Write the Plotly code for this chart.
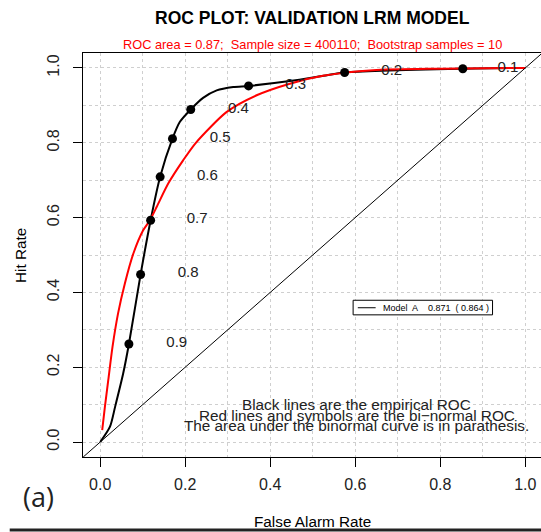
import plotly.graph_objects as go

# ---------------- data ----------------
# empirical ROC (black line)
emp_far = [0.0, 0.023, 0.035, 0.054, 0.0675, 0.095, 0.1186, 0.141, 0.170, 0.1875,
           0.213, 0.242, 0.274, 0.313, 0.349, 0.446, 0.525, 0.575, 0.853, 1.0]
emp_hit = [0.0, 0.041, 0.094, 0.183, 0.262, 0.448, 0.593, 0.709, 0.811, 0.856,
           0.889, 0.920, 0.940, 0.949, 0.952, 0.965, 0.979, 0.988, 0.998, 1.0]

# threshold points on the empirical curve
thr_far = [0.853, 0.575, 0.349, 0.213, 0.170, 0.141, 0.1186, 0.095, 0.0675]
thr_hit = [0.998, 0.988, 0.952, 0.889, 0.811, 0.709, 0.593, 0.448, 0.262]
thr_labels = ["0.1", "0.2", "0.3", "0.4", "0.5", "0.6", "0.7", "0.8", "0.9"]
thr_label_far = [0.959, 0.686, 0.460, 0.325, 0.282, 0.252, 0.228, 0.207, 0.180]
thr_label_hit = [1.000, 0.992, 0.954, 0.890, 0.813, 0.711, 0.595, 0.451, 0.264]

# bi-normal ROC (red line)
bin_far = [0.0047, 0.011, 0.019, 0.029, 0.042, 0.058, 0.078, 0.101, 0.117, 0.133,
           0.160, 0.195, 0.225, 0.297, 0.368, 0.446, 0.524, 0.642, 0.80, 1.0]
bin_hit = [0.032, 0.094, 0.166, 0.255, 0.344, 0.424, 0.504, 0.566, 0.593, 0.629,
           0.691, 0.753, 0.800, 0.882, 0.927, 0.958, 0.979, 0.994, 0.998, 1.0]

tick_vals = [0.0, 0.2, 0.4, 0.6, 0.8, 1.0]
tick_text = ["0.0", "0.2", "0.4", "0.6", "0.8", "1.0"]

model_name = "Model\u00a0 A"
model_area = "0.871"
model_binorm_area = "0.864"

title = "ROC PLOT: VALIDATION LRM MODEL"
subtitle = ("ROC area = 0.87;\u00a0 Sample size = 400110;\u00a0 "
            "Bootstrap samples = 10")
notes = ["Black lines are the empirical ROC",
         "Red lines and symbols are the bi\u2212normal ROC",
         "The area under the binormal curve is in parathesis."]

FONT = "Liberation Sans, Arial, Helvetica, sans-serif"

# ---------------- figure ----------------
fig = go.Figure()

fig.add_trace(go.Scatter(x=emp_far, y=emp_hit, mode="lines",
                         line=dict(color="black", width=2, shape="spline", smoothing=0.7),
                         showlegend=False, hoverinfo="skip"))
fig.add_trace(go.Scatter(x=bin_far, y=bin_hit, mode="lines",
                         line=dict(color="red", width=2, shape="spline", smoothing=0.7),
                         showlegend=False, hoverinfo="skip"))
fig.add_trace(go.Scatter(x=thr_far, y=thr_hit, mode="markers",
                         marker=dict(color="black", size=9),
                         showlegend=False, hoverinfo="skip"))
fig.add_trace(go.Scatter(x=thr_label_far, y=thr_label_hit, mode="text",
                         text=thr_labels, textposition="middle center",
                         textfont=dict(family=FONT, size=15, color="#222"),
                         showlegend=False, hoverinfo="skip"))

xr = [-0.0405, 1.037]
yr = [-0.04, 1.04]

# diagonal reference (y = x)
fig.add_shape(type="line", xref="x", yref="y", x0=yr[0], y0=yr[0], x1=yr[1], y1=yr[1],
              line=dict(color="black", width=1), layer="above")

# legend box
fig.add_shape(type="rect", xref="x", yref="y", x0=0.595, x1=0.923, y0=0.340, y1=0.379,
              line=dict(color="black", width=1), fillcolor="white", layer="above")
fig.add_shape(type="line", xref="x", yref="y", x0=0.606, x1=0.648, y0=0.359, y1=0.359,
              line=dict(color="black", width=1), layer="above")
fig.add_annotation(xref="x", yref="y", x=0.661, y=0.359, xanchor="left", yanchor="middle",
                   text=f"{model_name}\u00a0\u00a0\u00a0\u00a0{model_area}\u00a0\u00a0(\u00a0{model_binorm_area}\u00a0)",
                   showarrow=False, font=dict(family=FONT, size=9, color="black"))

# notes
for txt, yy in zip(notes, [0.1015, 0.072, 0.045]):
    fig.add_annotation(xref="x", yref="y", x=0.604, y=yy, text=txt, showarrow=False,
                       xanchor="center", yanchor="middle",
                       font=dict(family=FONT, size=15.3, color="#222"))

# titles
fig.add_annotation(xref="x", yref="paper", x=0.5, y=1.0858, text=f"<b>{title}</b>",
                   showarrow=False, yanchor="middle",
                   font=dict(family=FONT, size=17.5, color="black"))
fig.add_annotation(xref="x", yref="paper", x=0.5, y=1.021, text=subtitle,
                   showarrow=False, yanchor="middle",
                   font=dict(family=FONT, size=12.8, color="red"))
fig.add_annotation(xref="x", yref="paper", x=0.5, y=-0.160, text="False Alarm Rate",
                   showarrow=False, yanchor="middle",
                   font=dict(family=FONT, size=15.3, color="black"))
fig.add_annotation(xref="paper", yref="paper", x=-0.1376, y=0.5, text="Hit Rate",
                   showarrow=False, textangle=-90, xanchor="center", yanchor="middle",
                   font=dict(family=FONT, size=15.3, color="black"))
fig.add_annotation(xref="paper", yref="paper", x=-0.098, y=-0.099, text="(a)",
                   showarrow=False, xanchor="center", yanchor="middle",
                   font=dict(family="Open Sans, sans-serif", size=27, color="#222"))

# bottom rule
fig.add_shape(type="line", xref="paper", yref="paper", x0=-0.16, x1=1.0, y0=-0.181, y1=-0.181,
              line=dict(color="#222", width=3))

grid = dict(showgrid=True, gridcolor="#cfcfcf", griddash="dot", gridwidth=1)

fig.update_xaxes(range=xr, tickvals=tick_vals, ticktext=tick_text, ticks="outside",
                 ticklen=9, tickcolor="black", tickwidth=1, showline=True, linecolor="black",
                 linewidth=1, mirror=True, zeroline=False, ticklabelstandoff=4,
                 tickfont=dict(family=FONT, size=16, color="#222"),
                 minor=dict(dtick=0.1, tick0=0, ticks="", **grid), **grid)
fig.update_yaxes(range=yr, tickvals=tick_vals, ticktext=tick_text, ticks="outside",
                 ticklen=9, tickcolor="black", tickwidth=1, showline=True, linecolor="black",
                 linewidth=1, mirror=False, zeroline=False, tickangle=-90,
                 ticklabelstandoff=8,
                 tickfont=dict(family=FONT, size=16, color="#222"),
                 minor=dict(dtick=0.1, tick0=0, ticks="", **grid), **grid)

fig.update_layout(width=541, height=532, margin=dict(l=83, r=0, t=53, b=75),
                  plot_bgcolor="white", paper_bgcolor="white", showlegend=False)

fig.write_html("out.html")
